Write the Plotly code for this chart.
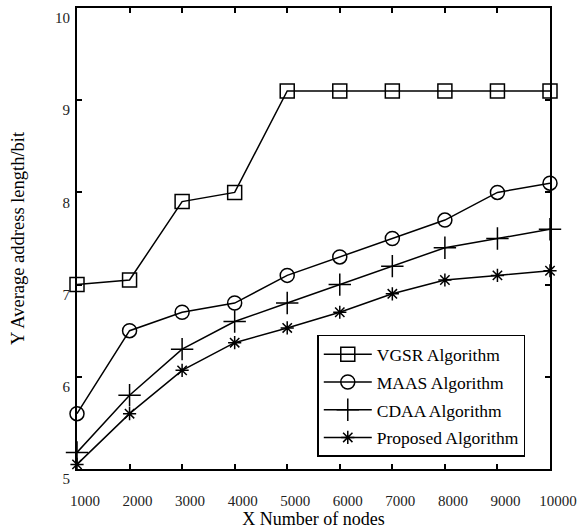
import plotly.graph_objects as go

nodes = [1000, 2000, 3000, 4000, 5000, 6000, 7000, 8000, 9000, 10000]
vgsr = [7.0, 7.05, 7.9, 8.0, 9.1, 9.1, 9.1, 9.1, 9.1, 9.1]
maas = [5.6, 6.5, 6.7, 6.8, 7.1, 7.3, 7.5, 7.7, 8.0, 8.1]
cdaa = [5.18, 5.8, 6.3, 6.6, 6.8, 7.0, 7.2, 7.4, 7.5, 7.6]
proposed = [5.05, 5.6, 6.07, 6.37, 6.53, 6.7, 6.9, 7.05, 7.1, 7.15]

x_ticks = [1000, 2000, 3000, 4000, 5000, 6000, 7000, 8000, 9000, 10000]
y_ticks = [5, 6, 7, 8, 9, 10]

FONT = "Liberation Serif"

series = [
    ("VGSR Algorithm", vgsr, "square-open", 14),
    ("MAAS Algorithm", maas, "circle-open", 14),
    ("CDAA Algorithm", cdaa, "cross-thin-open", 16),
    ("Proposed Algorithm", proposed, "asterisk-open", 11),
]

fig = go.Figure()
for i, (name, vals, sym, sz) in enumerate(series):
    fig.add_trace(go.Scatter(
        x=nodes, y=vals, name=name, mode="lines+markers",
        line=dict(color="black", width=1.5),
        marker=dict(symbol=sym, size=sz, color="black",
                    line=dict(color="black", width=1.5)),
        legendgroup=f"g{i}",
        cliponaxis=False,
    ))

axis_common = dict(
    showgrid=False, zeroline=False, showline=True, linecolor="black",
    linewidth=2, mirror="ticks", ticks="inside", ticklen=5, tickwidth=1.5,
    tickcolor="black", tickfont=dict(family=FONT, size=15, color="#222"),
)

fig.update_layout(
    width=578, height=529,
    margin=dict(l=77, r=28, t=8, b=60),
    paper_bgcolor="white", plot_bgcolor="white",
    font=dict(family=FONT, color="black"),
    showlegend=True,
    legend=dict(
        x=0.508, y=0.291, xanchor="left", yanchor="top",
        bordercolor="black", borderwidth=1.5, bgcolor="white",
        font=dict(family=FONT, size=17.5, color="black"),
        traceorder="grouped", tracegroupgap=2,
        itemwidth=48,
    ),
    xaxis=dict(
        range=[1000, 10000], tickvals=x_ticks,
        ticktext=[str(v) for v in x_ticks],
        ticklabelshift=8, ticklabelstandoff=17,
        title=dict(text="X Number of nodes", font=dict(family=FONT, size=18),
                   standoff=4),
        automargin=False,
        **axis_common,
    ),
    yaxis=dict(
        range=[5, 10], tickvals=y_ticks,
        ticktext=[str(v) for v in y_ticks],
        ticklabelshift=10, ticklabelstandoff=2,
        title=dict(text="Y Average address length/bit",
                   font=dict(family=FONT, size=18.5), standoff=26),
        automargin=False,
        **axis_common,
    ),
)

fig.write_html("out.html")
